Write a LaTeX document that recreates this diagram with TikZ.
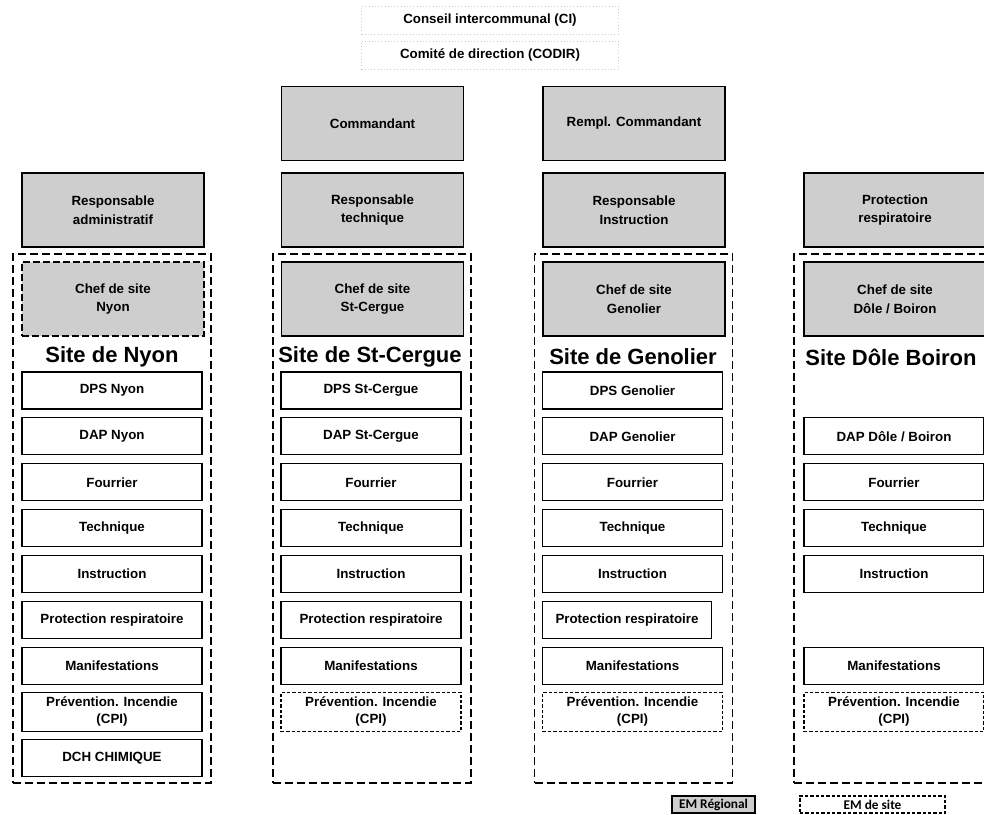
\documentclass[tikz,border=0pt]{standalone}
\usepackage{fontspec}
\usepackage{xcolor}
\setmainfont{Liberation Sans}
\newfontfamily\legendfont{Carlito}
\definecolor{emgray}{RGB}{206, 206, 206}
\tikzstyle{topnode} = [rectangle, minimum width=192.75pt, minimum height=21pt, text centered, draw=black!20, dotted, font=\bfseries\fontsize{10}{12}\selectfont]
\tikzstyle{regnode} = [rectangle, minimum width=136.5pt, minimum height=55.5pt, text centered, align=center, draw=black, line width=1.1pt, fill=emgray, font=\bfseries\fontsize{10}{14}\selectfont]
\tikzstyle{chefdash} = [regnode, dash pattern=on 5pt off 2.5pt]
\tikzstyle{sitebox} = [rectangle, minimum width=148.5pt, minimum height=396.75pt, draw=black, line width=0.8pt, dash pattern=on 6pt off 3pt]
\tikzstyle{sitetitle} = [font=\bfseries\fontsize{16.5}{18}\selectfont]
\tikzstyle{tasknode} = [rectangle, minimum width=135pt, minimum height=27.75pt, text centered, align=center, draw=black, line width=0.8pt, fill=white, font=\bfseries\fontsize{10}{13}\selectfont]
\tikzstyle{cpinode} = [tasknode, dash pattern=on 2.5pt off 1.5pt]
\tikzstyle{legregional} = [rectangle, minimum width=62.25pt, minimum height=12.75pt, inner sep=1pt, draw=black, line width=0.8pt, fill=emgray, font=\legendfont\bfseries\fontsize{10}{11}\selectfont]
\tikzstyle{legsite} = [legregional, fill=none, dash pattern=on 2.5pt off 1.5pt, minimum width=108.75pt]

\begin{document}
\begin{tikzpicture}[x=0.75pt, y=-0.75pt]
                \useasboundingbox (0,0) rectangle (984,814);
                % conseil et codir
                \node[topnode] (ci) at (490,20) {Conseil intercommunal (CI)};
                \node[topnode] (codir) at (490,55) {Comité de direction (CODIR)};
                
                % EM regional
                \node[regnode] (cdt) at (372.5,123.5) {Commandant};
                \node[regnode] (rcdt) at (634,123.5) {Rempl. Commandant};
                \node[regnode] (radm) at (113,210) {Responsable\\administratif};
                \node[regnode] (rtech) at (372.5,210) {Responsable\\technique};
                \node[regnode] (rinstr) at (634,210) {Responsable\\Instruction};
                \node[regnode] (rprot) at (895,210) {Protection\\respiratoire};
                
                % EM de site
                \node[sitebox] (nyon) at (112,518.5) {};
                \node[sitebox] (stcergue) at (372,518.5) {};
                \node[sitebox] (genolier) at (633.5,518.5) {};
                \node[sitebox] (doleboiron) at (893,518.5) {};
                
                \node[chefdash] (chefnyon) at (113,299) {Chef de site\\Nyon};
                \node[regnode] (chefstc) at (372.5,299) {Chef de site\\St-Cergue};
                \node[regnode] (chefgen) at (634,299) {Chef de site\\Genolier};
                \node[regnode] (chefdb) at (895,299) {Chef de site\\Dôle / Boiron};
                
                \node[sitetitle] (tnyon) at (112,357) {Site de Nyon};
                \node[sitetitle] (tstc) at (370,357) {Site de St-Cergue};
                \node[sitetitle] (tgen) at (633,357) {Site de Genolier};
                \node[sitetitle] (tdb) at (891,357) {Site Dôle Boiron};
                
                % Nyon
                \node[tasknode] (dpsnyon) at (112,390.5) {DPS Nyon};
                \node[tasknode] (dapnyon) at (112,436.4) {DAP Nyon};
                \node[tasknode] (fournyon) at (112,482.3) {Fourrier};
                \node[tasknode] (technyon) at (112,528.2) {Technique};
                \node[tasknode] (instrnyon) at (112,574.1) {Instruction};
                \node[tasknode] (protnyon) at (112,620) {Protection respiratoire};
                \node[tasknode] (manifnyon) at (112,665.9) {Manifestations};
                \node[tasknode] (cpinyon) at (112,711.8) {Prévention. Incendie\\(CPI)};
                \node[tasknode] (dchnyon) at (112,757.7) {DCH CHIMIQUE};
                
                % St-Cergue
                \node[tasknode] (dpsstc) at (371,390.5) {DPS St-Cergue};
                \node[tasknode] (dapstc) at (371,436.4) {DAP St-Cergue};
                \node[tasknode] (fourstc) at (371,482.3) {Fourrier};
                \node[tasknode] (techstc) at (371,528.2) {Technique};
                \node[tasknode] (instrstc) at (371,574.1) {Instruction};
                \node[tasknode] (protstc) at (371,620) {Protection respiratoire};
                \node[tasknode] (manifstc) at (371,665.9) {Manifestations};
                \node[cpinode] (cpistc) at (371,711.8) {Prévention. Incendie\\(CPI)};
                
                % Genolier
                \node[tasknode] (dpsgen) at (632.5,390.5) {DPS Genolier};
                \node[tasknode] (dapgen) at (632.5,436.4) {DAP Genolier};
                \node[tasknode] (fourgen) at (632.5,482.3) {Fourrier};
                \node[tasknode] (techgen) at (632.5,528.2) {Technique};
                \node[tasknode] (instrgen) at (632.5,574.1) {Instruction};
                \node[tasknode, minimum width=126.75pt] (protgen) at (627,620) {Protection respiratoire};
                \node[tasknode] (manifgen) at (632.5,665.9) {Manifestations};
                \node[cpinode] (cpigen) at (632.5,711.8) {Prévention. Incendie\\(CPI)};
                
                % Dole / Boiron
                \node[tasknode] (dapdb) at (894,436.4) {DAP Dôle / Boiron};
                \node[tasknode] (fourdb) at (894,482.3) {Fourrier};
                \node[tasknode] (techdb) at (894,528.2) {Technique};
                \node[tasknode] (instrdb) at (894,574.1) {Instruction};
                \node[tasknode] (manifdb) at (894,665.9) {Manifestations};
                \node[cpinode] (cpidb) at (894,711.8) {Prévention. Incendie\\(CPI)};
                
                % legende
                \node[legregional] (legreg) at (713.5,804.5) {EM Régional};
                \node[legsite] (legsite) at (872.5,804.5) {EM de site};
            \end{tikzpicture}
\end{document}
